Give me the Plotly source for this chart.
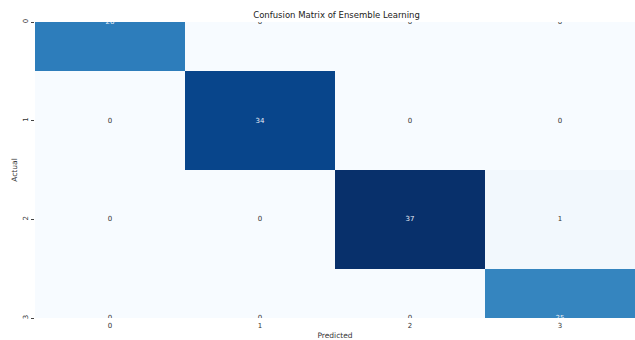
import plotly.graph_objects as go

# Confusion matrix of the ensemble classifier (rows: actual, cols: predicted)
classes = [0, 1, 2, 3]
counts = [
    [26, 0, 0, 0],
    [0, 34, 0, 0],
    [0, 0, 37, 1],
    [0, 0, 0, 25],
]

# matplotlib "Blues" anchor colours
blues = ["#f7fbff", "#deebf7", "#c6dbef", "#9ecae1", "#6baed6",
         "#4292c6", "#2171b5", "#08519c", "#08306b"]
colorscale = [[i / (len(blues) - 1), c] for i, c in enumerate(blues)]
clear = [[0, "rgba(0,0,0,0)"], [1, "rgba(0,0,0,0)"]]

font = "DejaVu Sans"
zmax = max(max(r) for r in counts)

# split cell labels: light text on dark cells, dark text on pale cells
light_txt = [[str(v) if v > zmax / 2 else "" for v in row] for row in counts]
dark_txt = [[str(v) if v <= zmax / 2 else "" for v in row] for row in counts]

fig = go.Figure()
fig.add_trace(go.Heatmap(
    z=counts, x=classes, y=classes,
    colorscale=colorscale, zmin=0, zmax=zmax, showscale=False,
    text=light_txt, texttemplate="%{text}",
    textfont=dict(family=font, size=7, color="#e8eef6"),
    hoverinfo="skip",
))
fig.add_trace(go.Heatmap(
    z=counts, x=classes, y=classes,
    colorscale=clear, zmin=0, zmax=zmax, showscale=False,
    text=dark_txt, texttemplate="%{text}",
    textfont=dict(family=font, size=7, color="#333333"),
    hoverinfo="skip",
))

fig.update_layout(
    width=635,
    height=340,
    margin=dict(l=35, r=0, t=22, b=22),
    paper_bgcolor="white",
    plot_bgcolor="white",
    font=dict(family=font, size=7, color="#333"),
    title=dict(
        text="Confusion Matrix of Ensemble Learning",
        x=0.53, xanchor="center", y=0.955, yanchor="middle",
        font=dict(family=font, size=8.5, color="#222"),
    ),
    xaxis=dict(
        range=[-0.5, 3.5],
        tickvals=classes,
        ticks="",
        showgrid=False,
        zeroline=False,
        showline=False,
        ticklabelstandoff=2,
        title=dict(text="Predicted", standoff=3, font=dict(size=7.5, color="#333")),
    ),
    yaxis=dict(
        range=[3, 0],
        tickvals=classes,
        ticks="outside",
        ticklen=3,
        tickcolor="#444",
        tickangle=-90,
        showgrid=False,
        zeroline=False,
        showline=False,
        title=dict(text="Actual", standoff=3, font=dict(size=7.5, color="#333")),
    ),
)

fig.write_html("out.html")
